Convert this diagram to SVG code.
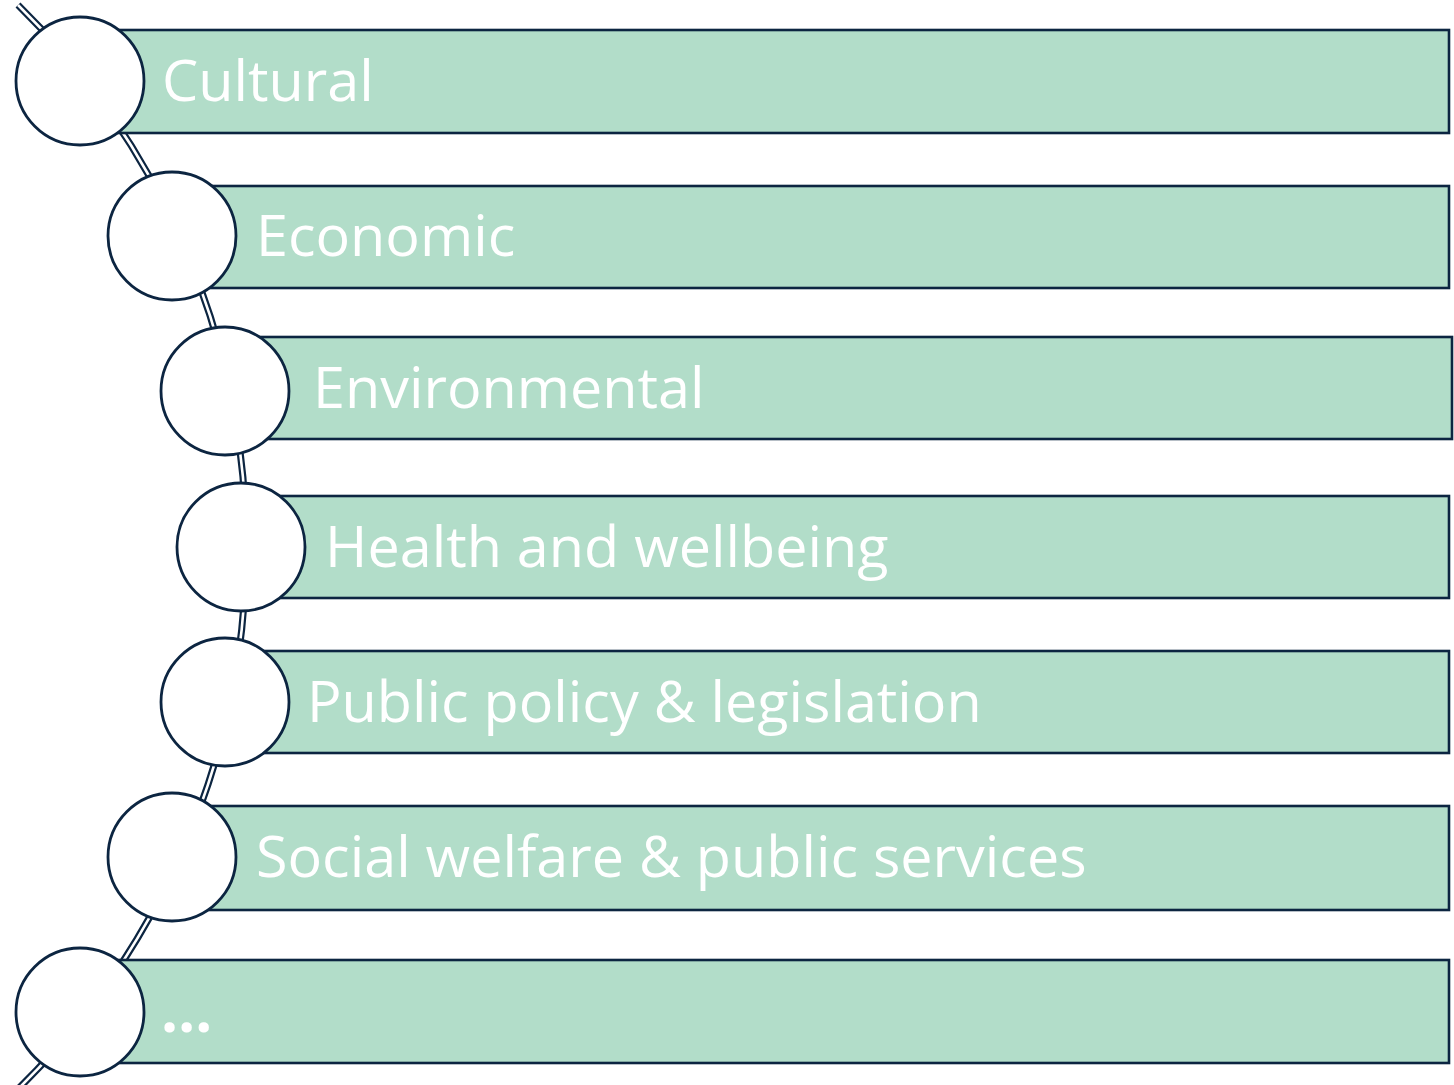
<svg xmlns="http://www.w3.org/2000/svg" width="1454" height="1085" viewBox="0 0 1454 1085">
<style>
.bar{fill:#b2ddc9;stroke:#0c2541;stroke-width:2.6}
.dot{fill:#ffffff;stroke:#0c2541;stroke-width:2.8}
.lbl{fill:#ffffff;font-family:"Open Sans","Noto Sans",sans-serif;font-size:57.5px}
.ell{font-weight:bold;font-size:60px}
.arcO{fill:none;stroke:#0c2541;stroke-width:7}
.arcI{fill:none;stroke:#ffffff;stroke-width:2.6}
</style>
<rect width="1454" height="1085" fill="#ffffff"/>
<g id="connectors">
<path class="arcO" d="M 18 5 A 758 758 0 0 1 18 1089"/>
<path class="arcI" d="M 18 5 A 758 758 0 0 1 18 1089"/>
</g>
<g id="n1"><rect class="bar" x="80" y="30" width="1369" height="103"/><circle class="dot" cx="80" cy="81" r="64"/><text class="lbl" x="162" y="101">Cultural</text></g>
<g id="n2"><rect class="bar" x="172" y="186" width="1277" height="102"/><circle class="dot" cx="172" cy="236" r="64"/><text class="lbl" x="256" y="256">Economic</text></g>
<g id="n3"><rect class="bar" x="225" y="337" width="1227" height="102"/><circle class="dot" cx="225" cy="391" r="64"/><text class="lbl" x="313" y="408">Environmental</text></g>
<g id="n4"><rect class="bar" x="241" y="496" width="1208" height="102"/><circle class="dot" cx="241" cy="547" r="64"/><text class="lbl" x="325" y="567">Health and wellbeing</text></g>
<g id="n5"><rect class="bar" x="225" y="651" width="1224" height="102"/><circle class="dot" cx="225" cy="702" r="64"/><text class="lbl" x="307" y="722">Public policy &amp; legislation</text></g>
<g id="n6"><rect class="bar" x="172" y="806" width="1277" height="104"/><circle class="dot" cx="172" cy="857" r="64"/><text class="lbl" x="256" y="877">Social welfare &amp; public services</text></g>
<g id="n7"><rect class="bar" x="80" y="960" width="1369" height="103"/><circle class="dot" cx="80" cy="1012" r="64"/><text class="lbl ell" x="161" y="1032">…</text></g>
</svg>
